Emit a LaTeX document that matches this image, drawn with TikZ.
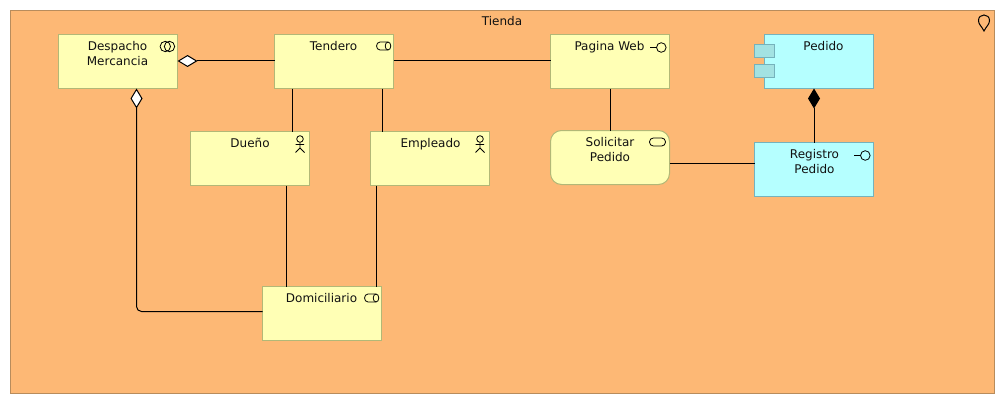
\documentclass[tikz,border=0pt]{standalone}
\usepackage{fontspec}
\setmainfont{DejaVu Sans}
\usetikzlibrary{arrows.meta}
\definecolor{yfill}{HTML}{FFFFB5}
\definecolor{ystroke}{HTML}{B2B877}
\definecolor{cfill}{HTML}{B5FFFF}
\definecolor{cstroke}{HTML}{75B2BC}
\definecolor{tabfill}{HTML}{A3E2E2}
\definecolor{ofill}{HTML}{FDB875}
\definecolor{ostroke}{HTML}{B88C5C}
\definecolor{ink}{HTML}{111111}
\tikzset{
  box/.style={draw=ystroke,fill=yfill,line width=1pt,minimum width=119pt,minimum height=54pt,inner sep=0pt,outer sep=0pt},
  cbox/.style={box,draw=cstroke,fill=cfill},
  txt/.style={anchor=north,align=center,inner sep=0pt,font=\fontsize{12}{15}\selectfont,text=ink},
  conn/.style={draw=black,line width=1pt},
  icon/.style={draw=black,line width=0.8pt},
  agg/.style={conn,-{Kite[length=20pt,width=12pt,inset=10pt,fill=white,line width=1pt]}},
  cmp/.style={conn,-{Kite[length=20pt,width=12pt,inset=10pt,fill=black,line width=1pt]}}
}
\newcommand{\actoricon}[1]{%
  \begin{scope}[shift={(#1)}]
    \draw[icon] (-9.5,7.5) circle (3.3);
    \draw[icon] (-9.5,10.8) -- (-9.5,16.5) (-14,13) -- (-5.5,13) (-14,21) -- (-9.5,16.5) -- (-5,21);
  \end{scope}}
\newcommand{\roleicon}[1]{%
  \begin{scope}[shift={(#1)}]
    \draw[icon] (-6,7.5) -- (-13.5,7.5) arc[start angle=90,end angle=270,x radius=3.5,y radius=-4] -- (-6,15.5);
    \draw[icon] (-5.5,11.5) ellipse (2.8 and 4);
  \end{scope}}
\newcommand{\ifaceicon}[1]{%
  \begin{scope}[shift={(#1)}]
    \draw[icon] (-19.5,13) -- (-13,13);
    \draw[icon] (-8.2,13) circle (4.8);
  \end{scope}}
\begin{document}
\begin{tikzpicture}[x=1pt,y=-1pt]
\useasboundingbox (0,0) rectangle (1004,404);
\node[draw=ostroke,fill=ofill,line width=1pt,minimum width=983.5pt,minimum height=382.5pt,inner sep=0pt,outer sep=0pt] (tienda) at (502.25,202) {};
\node[txt] (ltienda) at (502,16.5) {Tienda};
% pin
\draw[icon,line width=1pt] (984,31) .. controls (981.5,26) and (978.5,24.5) .. (978.5,20.5) .. controls (978.5,17) and (981,15) .. (984,15) .. controls (987,15) and (989.5,17) .. (989.5,20.5) .. controls (989.5,24.5) and (986.5,26) .. (984,31) -- cycle;

\node[box] (despacho) at (118,61.5) {};
\node[box] (tendero) at (334,61.5) {};
\node[box] (pagina) at (610,61.5) {};
\node[cbox,minimum width=109pt] (pedido) at (819,61.5) {};
\node[box] (dueno) at (250,158.5) {};
\node[box] (empleado) at (430,158.5) {};
\node[box,rounded corners=11pt] (solicitar) at (610,157.5) {};
\node[cbox] (registro) at (814,169.5) {};
\node[box] (domiciliario) at (322,313.5) {};

\node[draw=cstroke,fill=tabfill,line width=1pt,minimum width=20pt,minimum height=13pt,inner sep=0pt] (tabA) at (764.5,51) {};
\node[draw=cstroke,fill=tabfill,line width=1pt,minimum width=20pt,minimum height=13pt,inner sep=0pt] (tabB) at (764.5,71) {};

\node[txt] (ldespacho) at (117.5,41) {Despacho\\Mercancia};
\node[txt] (ltendero) at (333.5,41) {Tendero};
\node[txt] (lpagina) at (609.5,41) {Pagina Web};
\node[txt] (lpedido) at (823.5,41) {Pedido};
\node[txt] (ldueno) at (250,138) {Dueño};
\node[txt] (lempleado) at (430.5,138) {Empleado};
\node[txt] (lsolicitar) at (610,137.5) {Solicitar\\Pedido};
\node[txt] (lregistro) at (814.5,149.5) {Registro\\Pedido};
\node[txt] (ldomiciliario) at (321.5,293) {Domiciliario};

% connectors
\draw[agg] (tendero.west) ++(0,-0.5) coordinate (a1) -- ([yshift=0.0pt]a1 -| despacho.east);
\draw[conn] ([yshift=0.5pt]tendero.east) -- ([yshift=0.5pt]pagina.west);
\draw[conn] ([xshift=18pt]tendero.south west) -- ([xshift=102pt]dueno.north west);
\draw[conn] ([xshift=108pt]tendero.south west) -- ([xshift=12pt]empleado.north west);
\draw[conn] ([xshift=96pt]dueno.south west) -- ([xshift=24pt]domiciliario.north west);
\draw[conn] ([xshift=6pt]empleado.south west) -- ([xshift=114pt]domiciliario.north west);
\draw[conn] (pagina.south) -- (solicitar.north);
\draw[conn] ([yshift=-6pt]solicitar.east) -- ([yshift=6pt]registro.west);
\draw[cmp] (registro.north) -- (registro.north |- pedido.south);
\draw[agg,rounded corners=5pt] ([yshift=2pt]domiciliario.west) -| ([xshift=78pt]despacho.south west);

% icons
\draw[icon] (165.3,46.5) circle (5.2);
\draw[icon] (169.5,46.5) circle (5.2);
\roleicon{tendero.north east}
\roleicon{domiciliario.north east}
\ifaceicon{pagina.north east}
\ifaceicon{registro.north east}
\actoricon{dueno.north east}
\actoricon{empleado.north east}
\draw[icon,rounded corners=3.8pt] (649.5,138) rectangle (665.5,146);
\end{tikzpicture}
\end{document}
